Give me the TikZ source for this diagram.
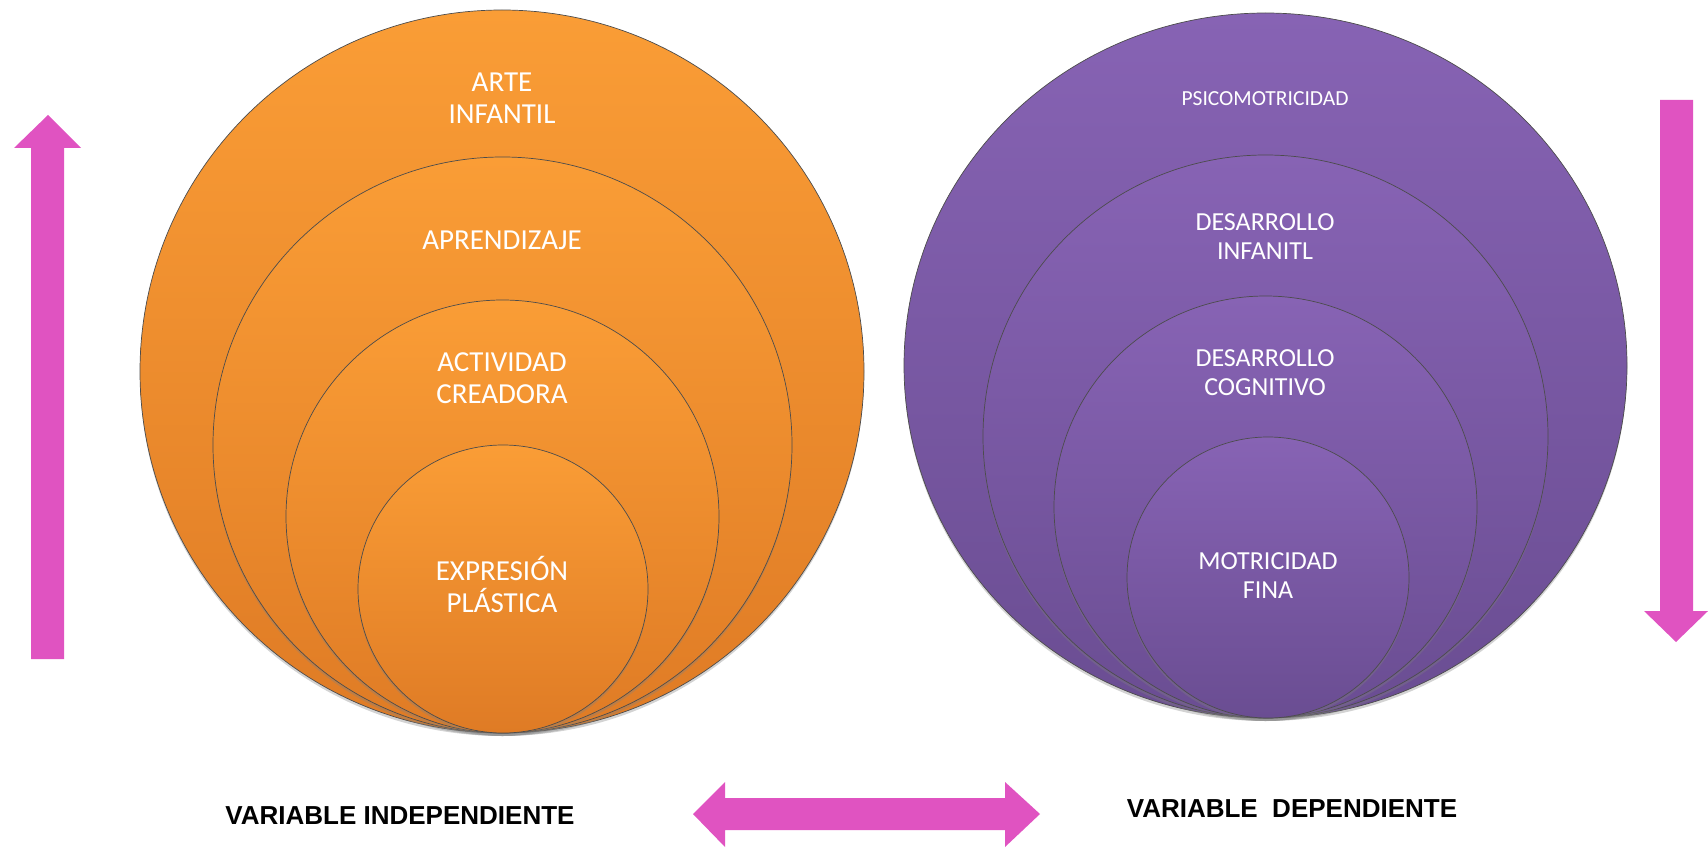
\documentclass[tikz,border=0pt]{standalone}
\usepackage{fontspec}
\setmainfont{Carlito}
\newfontfamily\etiqfont{Liberation Sans}
\usetikzlibrary{shapes.geometric,shadows}
\definecolor{naranjaA}{HTML}{FA9D36}
\definecolor{naranjaB}{HTML}{DF7B25}
\definecolor{moradoA}{HTML}{8763B4}
\definecolor{moradoB}{HTML}{6A4D92}
\definecolor{rosa}{HTML}{E053C1}
\tikzset{
  orbe/.style={ellipse, inner sep=0pt, draw=black!70, line width=0.7pt,
    drop shadow={opacity=0.35, shadow xshift=0pt, shadow yshift=-3pt}},
  naranja/.style={orbe, top color=naranjaA, bottom color=naranjaB},
  morado/.style={orbe, top color=moradoA, bottom color=moradoB},
  texto/.style={text=white, align=center, anchor=base, inner sep=0pt},
  grande/.style={texto, font=\fontsize{29}{32}\selectfont},
  medio/.style={texto, font=\fontsize{26}{29.5}\selectfont},
  etiqueta/.style={anchor=base, inner sep=0pt, font=\etiqfont\bfseries\fontsize{26}{30}\selectfont}
}
\begin{document}
\begin{tikzpicture}[x=1pt,y=-1pt]
    \useasboundingbox (0,0) rectangle (1708,848);
    \node[naranja, minimum width=724, minimum height=723] (arte) at (502,371.5) {};
    \node[naranja, minimum width=579, minimum height=576] (aprendizaje) at (502.5,445) {};
    \node[naranja, minimum width=433, minimum height=433] (actividad) at (502.5,516.5) {};
    \node[naranja, minimum width=290, minimum height=288] (expresion) at (503,589) {};
    \node[grande] (t-arte) at (502,124) {ARTE\\INFANTIL};
    \node[grande] (t-aprendizaje) at (502,249) {APRENDIZAJE};
    \node[grande] (t-actividad) at (502,403) {ACTIVIDAD\\CREADORA};
    \node[grande] (t-expresion) at (502,612) {EXPRESIÓN\\PLÁSTICA};

    \node[morado, minimum width=723, minimum height=705] (psico) at (1265.5,365.5) {};
    \node[morado, minimum width=565, minimum height=563] (infantil) at (1265.5,436.5) {};
    \node[morado, minimum width=423, minimum height=422] (cognitivo) at (1265.5,507) {};
    \node[morado, minimum width=282, minimum height=281] (motricidad) at (1268,577.5) {};
    \node[texto, font=\fontsize{21.5}{24}\selectfont] (t-psico) at (1265,106) {PSICOMOTRICIDAD};
    \node[medio] (t-infantil) at (1265,259.5) {DESARROLLO\\INFANITL};
    \node[medio] (t-cognitivo) at (1265,395.5) {DESARROLLO\\COGNITIVO};
    \node[medio] (t-motricidad) at (1268,598.5) {MOTRICIDAD\\FINA};

    \fill[rosa] (31,659) -- (31,148) -- (14,148) -- (48,115) -- (81,148) -- (64,148) -- (64,659) -- cycle;
    \fill[rosa] (1660,100) -- (1660,611) -- (1644,611) -- (1676,642) -- (1708,611) -- (1693,611) -- (1693,100) -- cycle;
    \fill[rosa] (693,814) -- (725,782) -- (725,798) -- (1005,798) -- (1005,782) -- (1040,814)
        -- (1005,847) -- (1005,830) -- (725,830) -- (725,847) -- cycle;

    \node[etiqueta] (indep) at (400,824) {VARIABLE INDEPENDIENTE};
    \node[etiqueta] (dep) at (1292,817) {VARIABLE\ \ DEPENDIENTE};
\end{tikzpicture}
\end{document}
